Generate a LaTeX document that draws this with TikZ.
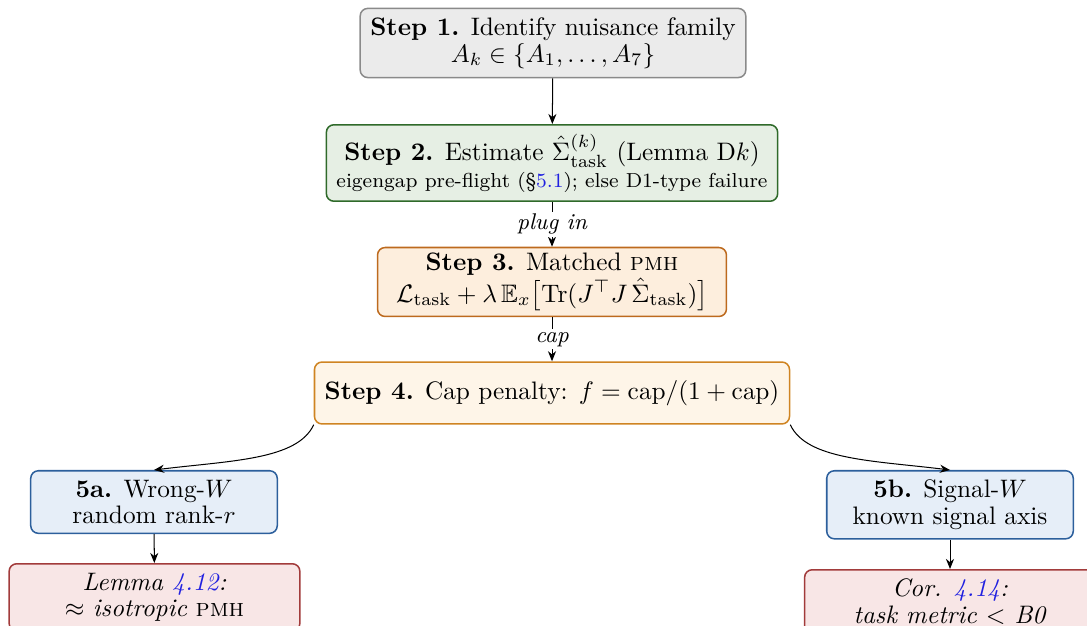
\documentclass[tikz,border=0pt]{standalone}
\usepackage{amsmath,amssymb}
\usetikzlibrary{arrows.meta}
\definecolor{grayfill}{HTML}{EBEBEB}
\definecolor{graydraw}{HTML}{8A8A8A}
\definecolor{greenfill}{HTML}{E6EFE4}
\definecolor{greendraw}{HTML}{2F6A2A}
\definecolor{orangefill}{HTML}{FDEEDD}
\definecolor{orangedraw}{HTML}{BD6A1E}
\definecolor{capfill}{HTML}{FEF5E8}
\definecolor{capdraw}{HTML}{CF8422}
\definecolor{bluefill}{HTML}{E6EEF8}
\definecolor{bluedraw}{HTML}{2C5F9C}
\definecolor{redfill}{HTML}{F8E6E6}
\definecolor{reddraw}{HTML}{A23B3B}
\definecolor{reflink}{HTML}{2020E0}
\tikzset{
  stepbox/.style={draw, semithick, rounded corners=3pt, align=center, inner xsep=4pt, inner ysep=3.6pt,
    font=\fontsize{10}{10.6}\selectfont},
  edgelabel/.style={fill=white, inner sep=1pt, font=\small\itshape},
  flow/.style={-{Stealth[length=4pt,width=3.2pt]}},
}
\begin{document}
\begin{tikzpicture}[x=0.0139cm,y=-0.0139cm]
\useasboundingbox (0,0) rectangle (1087,626);

% main chain
\node[stepbox, fill=grayfill, draw=graydraw] (s1) at (553,43)
  {\textbf{Step 1.} Identify nuisance family\\$A_k\in\{A_1,\dots,A_7\}$};
\node[stepbox, fill=greenfill, draw=greendraw] (s2) at (552,163)
  {\textbf{Step 2.} Estimate $\hat\Sigma^{(k)}_{\text{task}}$ (Lemma D$k$)\\
   {\footnotesize eigengap pre-flight (\S\textcolor{reflink}{5.1}); else D1-type failure}};
\node[stepbox, fill=orangefill, draw=orangedraw, minimum width=138pt, inner ysep=2.2pt] (s3) at (552,282)
  {\textbf{Step 3.} Matched \textsc{pmh}\\
   $\mathcal{L}_{\text{task}}+\lambda\,\mathbb{E}_x\bigl[\mathrm{Tr}(J^\top J\,\hat\Sigma_{\text{task}})\bigr]$};
\node[stepbox, fill=capfill, draw=capdraw, minimum height=24.5pt] (s4) at (552,393)
  {\textbf{Step 4.} Cap penalty: $f=\mathrm{cap}/(1+\mathrm{cap})$};

% two branches
\node[stepbox, fill=bluefill, draw=bluedraw, minimum width=97.5pt, anchor=north] (w5a) at (154,470)
  {\textbf{5a.} Wrong-$W$\\random rank-$r$};
\node[stepbox, fill=bluefill, draw=bluedraw, minimum width=97.5pt, anchor=north] (w5b) at (950,470)
  {\textbf{5b.} Signal-$W$\\known signal axis};
\node[stepbox, fill=redfill, draw=reddraw, minimum width=115pt, anchor=north] (lem) at (154.5,563)
  {\textit{Lemma \textcolor{reflink}{4.12}:}\\$\approx$ \textit{isotropic} \textsc{pmh}};
\node[stepbox, fill=redfill, draw=reddraw, minimum width=115pt, anchor=north] (cor) at (950,569)
  {\textit{Cor. \textcolor{reflink}{4.14}:}\\\textit{task metric $<$ B0}};

% connectors
\draw[flow] (s1) -- (s2);
\draw[flow] (s2) -- node[edgelabel] {plug in} (s3);
\draw[flow] (s3) -- node[edgelabel] {cap} (s4);
\draw[flow] (s4.south west) to[out=-115,in=7,out looseness=0.6,in looseness=1.2] (w5a.north);
\draw[flow] (s4.south east) to[out=-65,in=173,out looseness=0.6,in looseness=1.2] (w5b.north);
\draw[flow] (w5a) -- (lem);
\draw[flow] (w5b) -- (cor);

\end{tikzpicture}
\end{document}
